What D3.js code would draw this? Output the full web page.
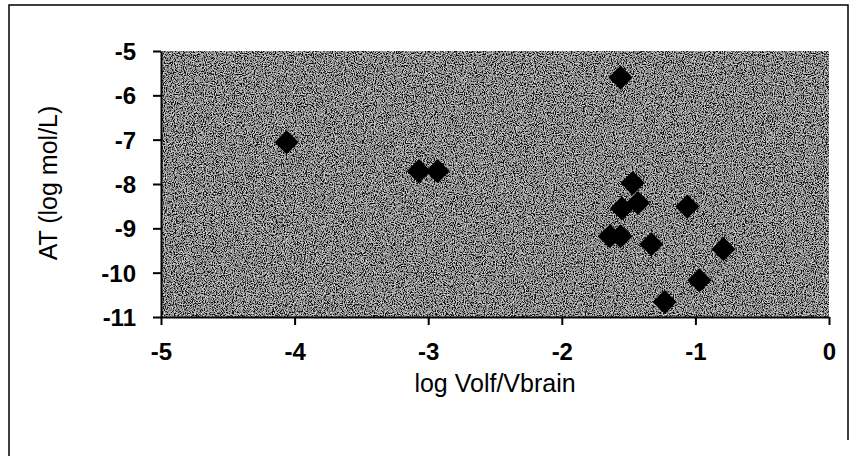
<!DOCTYPE html>
<html><head><meta charset="utf-8">
<script src="https://cdn.jsdelivr.net/npm/d3@7"></script>
<style>body{margin:0;background:#fff}svg{display:block}</style>
</head><body>
<svg id="c" width="857" height="460"></svg>
<script>
const xValues = [-4.06, -3.07, -2.93, -1.56, -1.47, -1.55, -1.43, -1.06, -1.64, -1.56, -1.33, -0.79, -0.97, -1.23];
const yValues = [-7.06, -7.71, -7.71, -5.60, -7.98, -8.55, -8.43, -8.51, -9.18, -9.18, -9.36, -9.47, -10.17, -10.66];
const xTicks = [-5, -4, -3, -2, -1, 0];
const yTicks = [-5, -6, -7, -8, -9, -10, -11];
const xTitle = "log Volf/Vbrain";
const yTitle = "AT (log mol/L)";

const svg = d3.select("#c");
const L = 161, R = 829, T = 51, B = 317;
const x = d3.scaleLinear().domain([-5, 0]).range([L, R]);
const y = d3.scaleLinear().domain([-11, -5]).range([B, T]);

// outer frame
svg.append("path").attr("d", "M9,456 L9,5 L848,5 L848,440")
  .attr("fill", "none").attr("stroke", "#000").attr("stroke-width", 1.5);

// noisy plot background
const defs = svg.append("defs");
const f = defs.append("filter").attr("id", "noise").attr("x", 0).attr("y", 0).attr("width", "100%").attr("height", "100%");
f.append("feTurbulence").attr("type", "fractalNoise").attr("baseFrequency", 0.9).attr("numOctaves", 2).attr("seed", 3).attr("result", "t");
f.append("feColorMatrix").attr("in", "t").attr("type", "matrix")
  .attr("values", "2.6 0 0 0 -1.0  2.6 0 0 0 -1.0  2.6 0 0 0 -1.0  0 0 0 0 1");

svg.append("rect").attr("x", L).attr("y", T).attr("width", R - L).attr("height", B - T).attr("fill", "#5e5e5e");
svg.append("rect").attr("x", L).attr("y", T).attr("width", R - L).attr("height", B - T)
  .attr("filter", "url(#noise)").attr("opacity", 0.8);

// axes
const font = "'Liberation Sans', Arial, sans-serif";
const fmt = d => String(d);
const gx = svg.append("g").attr("transform", `translate(0,${B})`)
  .call(d3.axisBottom(x).tickValues(xTicks).tickFormat(fmt).tickSize(8).tickSizeOuter(0));
const gy = svg.append("g").attr("transform", `translate(${L},0)`)
  .call(d3.axisLeft(y).tickValues(yTicks).tickFormat(fmt).tickSize(8).tickSizeOuter(0));
[gx, gy].forEach(g => {
  g.select(".domain").attr("stroke", "#000").attr("stroke-width", 2);
  g.selectAll(".tick line").attr("stroke", "#000").attr("stroke-width", 2);
  g.selectAll(".tick text").attr("fill", "#000").style("font-family", font)
    .style("font-size", "24px").style("font-weight", "bold");
});
gx.selectAll(".tick text").attr("y", 0).attr("dy", 0).attr("transform", "translate(0,43)");
gy.selectAll(".tick text").attr("x", -25).attr("dy", "0.36em");

// points
svg.append("g").selectAll("path").data(xValues.map((v, i) => [v, yValues[i]])).join("path")
  .attr("transform", d => `translate(${x(d[0])},${y(d[1])})`)
  .attr("d", d3.symbol().type(d3.symbolDiamond2).size(370))
  .attr("fill", "#000");

// titles
svg.append("text").attr("x", 495).attr("y", 392).attr("text-anchor", "middle")
  .style("font-family", font).style("font-size", "25px").text(xTitle);
svg.append("text").attr("transform", "translate(57,183) rotate(-90)").attr("text-anchor", "middle")
  .style("font-family", font).style("font-size", "25px").text(yTitle);
</script>
</body></html>
